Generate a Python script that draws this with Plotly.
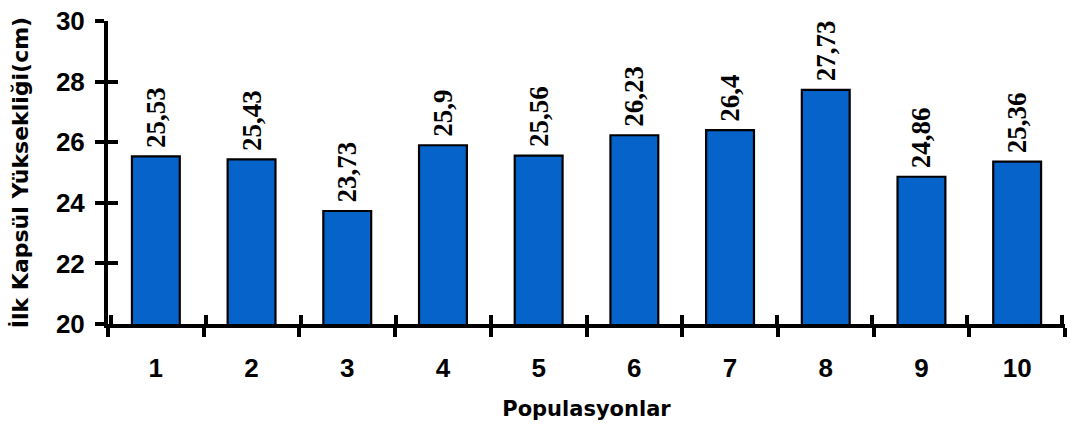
import plotly.graph_objects as go

# Population means of first capsule height (cm)
populations = ["1", "2", "3", "4", "5", "6", "7", "8", "9", "10"]
capsule_height = [25.53, 25.43, 23.73, 25.9, 25.56, 26.23, 26.4, 27.73, 24.86, 25.36]
y_ticks = [20, 22, 24, 26, 28, 30]

bar_color = "#0563C9"
label_text = ["<b>\u2009" + f"{v:g}".replace(".", ",") + "</b>" for v in capsule_height]

fig = go.Figure()
fig.add_trace(go.Bar(
    x=populations,
    y=capsule_height,
    marker=dict(color=bar_color, line=dict(color="black", width=2.2)),
    text=label_text,
    textposition="outside",
    textangle=-90,
    constraintext="none",
    cliponaxis=False,
    textfont=dict(family="Liberation Serif, Times New Roman, serif", size=27, color="black"),
    hoverinfo="skip",
))
# helper trace carrying the overlay axes that draw the inner half of the ticks
fig.add_trace(go.Scatter(
    x=populations, y=capsule_height, xaxis="x2", yaxis="y2",
    mode="markers", marker=dict(opacity=0, size=1), hoverinfo="skip", showlegend=False,
))

tick_font = dict(family="Liberation Sans, Arial, sans-serif", size=26, color="black", weight="bold")
title_font = dict(family="Verdana, DejaVu Sans, sans-serif", size=21, color="black", weight="bold")

fig.update_layout(
    width=1071, height=427,
    margin=dict(l=108, r=6, t=18, b=103),
    paper_bgcolor="white", plot_bgcolor="white",
    bargap=0.5,
    showlegend=False,
    xaxis=dict(
        type="category", tickson="boundaries",
        ticks="outside", ticklen=9, tickwidth=4, tickcolor="black",
        showline=True, linewidth=4, linecolor="black",
        showgrid=False, zeroline=False,
        tickfont=tick_font, ticklabelstandoff=18,
        title=dict(text="Populasyonlar", font=title_font, standoff=20),
    ),
    yaxis=dict(
        range=[20, 30], tickvals=y_ticks,
        ticks="outside", ticklen=9, tickwidth=3.5, tickcolor="black",
        showline=True, linewidth=4, linecolor="black",
        showgrid=False, zeroline=False,
        tickfont=tick_font, ticklabelstandoff=5,
        title=dict(text="İlk Kapsül Yüksekliği(cm)", font=dict(title_font, size=22), standoff=22),
    ),
    xaxis2=dict(
        type="category", tickson="boundaries", overlaying="x", anchor="y2", side="bottom",
        ticks="inside", ticklen=9, tickwidth=4, tickcolor="black",
        showline=False, showgrid=False, zeroline=False, showticklabels=False,
    ),
    yaxis2=dict(
        range=[19.999, 30.001], tickvals=y_ticks, overlaying="y", anchor="x2", side="left",
        ticks="inside", ticklen=10, tickwidth=3.5, tickcolor="black",
        showline=False, showgrid=False, zeroline=False, showticklabels=False,
    ),
)

fig.write_html("out.html")
